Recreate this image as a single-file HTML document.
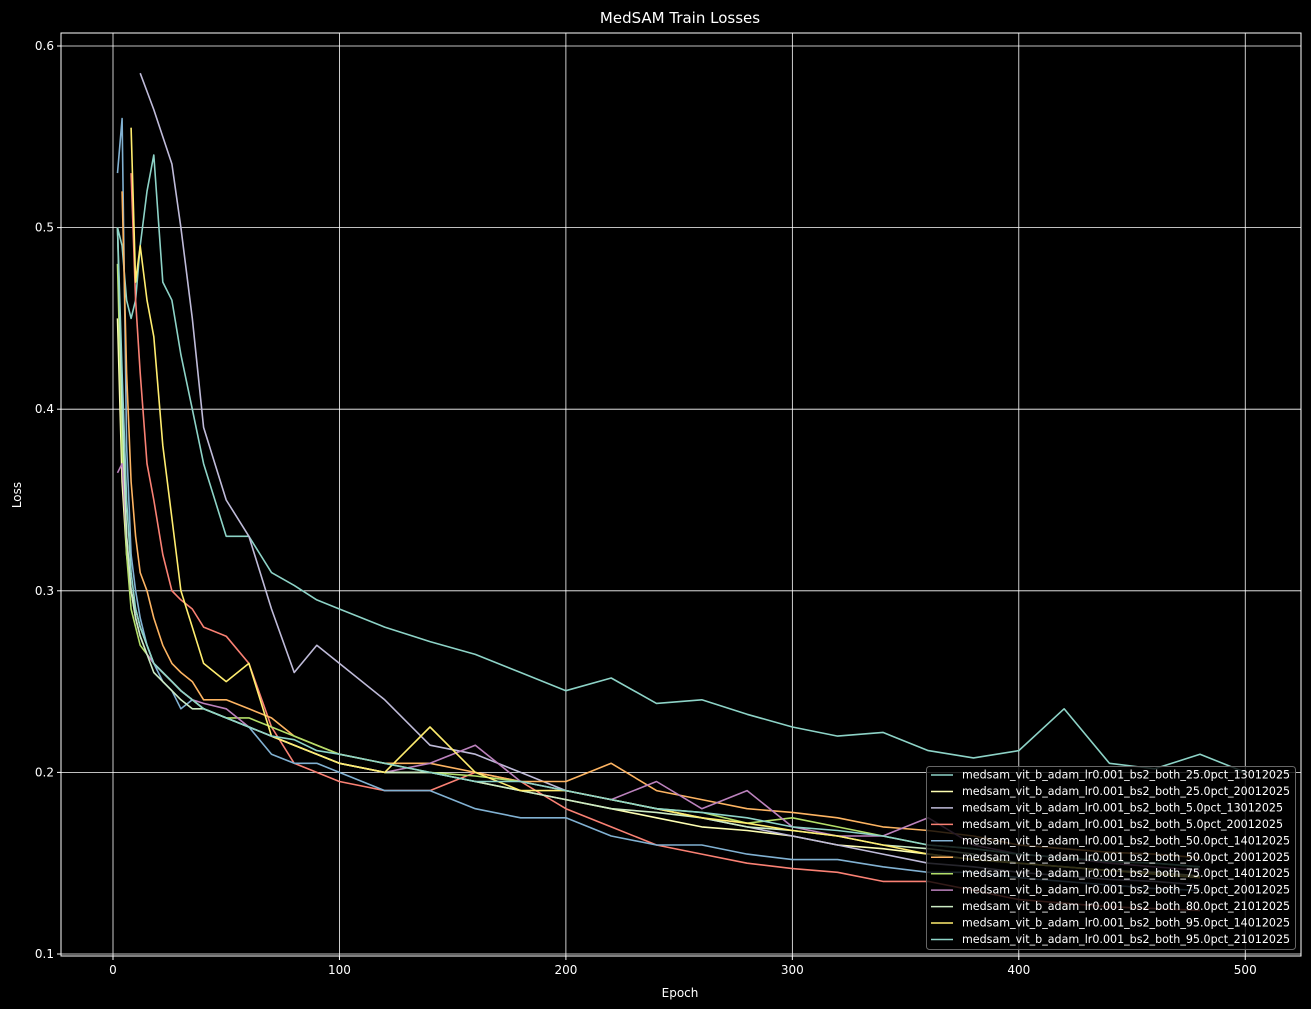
<!DOCTYPE html>
<html><head><meta charset="utf-8"><style>
html,body{margin:0;padding:0;background:#000;}
svg{display:block;font-family:"DejaVu Sans","Liberation Sans",sans-serif;}
</style></head><body>
<svg id="chart" width="1311" height="1009" xmlns="http://www.w3.org/2000/svg">
<rect width="1311" height="1009" fill="#000"/>
<text x="680" y="23" fill="#fff" font-size="15" text-anchor="middle">MedSAM Train Losses</text>
<text x="680" y="997" fill="#fff" font-size="12" text-anchor="middle">Epoch</text>
<text x="21" y="495" fill="#fff" font-size="12" text-anchor="middle" transform="rotate(-90 21 495)">Loss</text>
<g id="grid"></g><g id="ticks"></g><g id="lines"></g>
<rect x="61" y="33" width="1240" height="923" fill="none" stroke="#fff" stroke-width="1"/>
<g id="legend"></g>
</svg>
<script>
const epochs=[2,4,6,8,10,12,15,18,22,26,30,35,40,50,60,70,80,90,100,120,140,160,180,200,220,240,260,280,300,320,340,360,380,400,420,440,460,480,500];
const seriesNames=["medsam_vit_b_adam_lr0.001_bs2_both_25.0pct_13012025","medsam_vit_b_adam_lr0.001_bs2_both_25.0pct_20012025","medsam_vit_b_adam_lr0.001_bs2_both_5.0pct_13012025","medsam_vit_b_adam_lr0.001_bs2_both_5.0pct_20012025","medsam_vit_b_adam_lr0.001_bs2_both_50.0pct_14012025","medsam_vit_b_adam_lr0.001_bs2_both_50.0pct_20012025","medsam_vit_b_adam_lr0.001_bs2_both_75.0pct_14012025","medsam_vit_b_adam_lr0.001_bs2_both_75.0pct_20012025","medsam_vit_b_adam_lr0.001_bs2_both_80.0pct_21012025","medsam_vit_b_adam_lr0.001_bs2_both_95.0pct_14012025","medsam_vit_b_adam_lr0.001_bs2_both_95.0pct_21012025"];
const seriesColors=["#8dd3c7","#feffb3","#bfbbd9","#fa8174","#81b1d2","#fdb462","#b3de69","#bc82bd","#ccebc4","#ffed6f","#8dd3c7"];
const s1=[0.50,0.49,0.46,0.45,0.46,0.49,0.52,0.54,0.47,0.46,0.43,0.40,0.37,0.33,0.33,0.31,0.303,0.295,0.29,0.28,0.272,0.265,0.255,0.245,0.252,0.238,0.24,0.232,0.225,0.22,0.222,0.212,0.208,0.212,0.235,0.205,0.202,0.21,0.2];
const s2=[0.45,0.36,0.32,0.30,0.29,0.28,0.27,0.26,0.255,0.25,0.245,0.24,0.235,0.23,0.225,0.22,0.215,0.21,0.205,0.2,0.2,0.195,0.19,0.185,0.18,0.175,0.17,0.168,0.165,0.16,0.158,0.155,0.152,0.15,0.148,0.146,0.145,0.143];
const s3=[null,null,null,null,null,0.585,0.575,0.565,0.55,0.535,0.5,0.45,0.39,0.35,0.33,0.29,0.255,0.27,0.26,0.24,0.215,0.21,0.2,0.19,0.185,0.18,0.175,0.17,0.165,0.16,0.155,0.15,0.148,0.145,0.143,0.141,0.14,0.138];
const s4=[null,null,null,0.53,0.46,0.42,0.37,0.35,0.32,0.30,0.295,0.29,0.28,0.275,0.26,0.225,0.205,0.20,0.195,0.19,0.19,0.20,0.195,0.18,0.17,0.16,0.155,0.15,0.147,0.145,0.14,0.14,0.135,0.13,0.128,0.126,0.125,0.124];
const s5=[0.53,0.56,0.38,0.32,0.30,0.285,0.27,0.26,0.25,0.245,0.235,0.24,0.235,0.23,0.225,0.21,0.205,0.205,0.20,0.19,0.19,0.18,0.175,0.175,0.165,0.16,0.16,0.155,0.152,0.152,0.148,0.145,0.145,0.142,0.14,0.138,0.136,0.135];
const s6=[null,0.52,0.42,0.36,0.33,0.31,0.30,0.285,0.27,0.26,0.255,0.25,0.24,0.24,0.235,0.23,0.22,0.215,0.21,0.205,0.205,0.2,0.195,0.195,0.205,0.19,0.185,0.18,0.178,0.175,0.17,0.168,0.165,0.16,0.158,0.156,0.155,0.153];
const s7=[0.48,0.38,0.32,0.29,0.28,0.27,0.265,0.26,0.255,0.25,0.245,0.24,0.235,0.23,0.23,0.225,0.22,0.215,0.21,0.205,0.2,0.198,0.195,0.19,0.185,0.18,0.178,0.172,0.175,0.17,0.165,0.16,0.158,0.155,0.153,0.151,0.15,0.148];
const s8=[0.365,0.37,0.33,0.30,0.285,0.275,0.265,0.26,0.255,0.25,0.245,0.24,0.238,0.235,0.225,0.22,0.215,0.21,0.205,0.2,0.205,0.215,0.195,0.19,0.185,0.195,0.18,0.19,0.17,0.165,0.165,0.175,0.16,0.155,0.153,0.15,0.148,0.146];
const s9=[0.5,0.4,0.33,0.30,0.285,0.275,0.265,0.255,0.25,0.245,0.24,0.235,0.235,0.23,0.225,0.22,0.215,0.21,0.205,0.2,0.2,0.195,0.19,0.185,0.18,0.178,0.175,0.17,0.168,0.165,0.16,0.158,0.155,0.15,0.148,0.146,0.144,0.142];
const s10=[null,null,null,0.555,0.47,0.49,0.46,0.44,0.38,0.34,0.30,0.28,0.26,0.25,0.26,0.22,0.215,0.21,0.205,0.2,0.225,0.2,0.19,0.19,0.185,0.18,0.175,0.172,0.168,0.165,0.16,0.155,0.152,0.15,0.148,0.146,0.144,0.142];
const s11=[0.5,0.42,0.35,0.31,0.29,0.28,0.27,0.26,0.255,0.25,0.245,0.24,0.235,0.23,0.225,0.22,0.218,0.212,0.21,0.205,0.2,0.195,0.195,0.19,0.185,0.18,0.178,0.175,0.17,0.168,0.165,0.16,0.158,0.155,0.153,0.151,0.15,0.148];
const seriesValues=[s1,s2,s3,s4,s5,s6,s7,s8,s9,s10,s11];
const xTicks=[0,100,200,300,400,500];
const yTicks=[0.1,0.2,0.3,0.4,0.5,0.6];

const NS="http://www.w3.org/2000/svg";
function xs(v){return 113+v*2.2645;}
function ys(v){return 954-(v-0.1)*1816;}
function mk(tag,attrs,parent){const e=document.createElementNS(NS,tag);for(const k in attrs)e.setAttribute(k,attrs[k]);parent.appendChild(e);return e;}
const grid=document.getElementById('grid'),ticks=document.getElementById('ticks'),lines=document.getElementById('lines'),legend=document.getElementById('legend');
xTicks.forEach(t=>{
  const g=mk('line',{x1:xs(t),x2:xs(t),y1:33,y2:956,stroke:'#fff','stroke-width':0.8},grid);
  
  
  mk('line',{x1:xs(t),x2:xs(t),y1:956,y2:960,stroke:'#fff'},ticks);
  const l=mk('text',{x:xs(t),y:974,fill:'#fff','font-size':12,'text-anchor':'middle'},ticks);
  l.textContent=t;
  
  
});
yTicks.forEach(t=>{
  const g=mk('line',{x1:61,x2:1301,y1:ys(t),y2:ys(t),stroke:'#fff','stroke-width':0.8},grid);
  
  
  mk('line',{x1:57,x2:61,y1:ys(t),y2:ys(t),stroke:'#fff'},ticks);
  const l=mk('text',{x:54,y:ys(t)+4,fill:'#fff','font-size':12,'text-anchor':'end'},ticks);
  l.textContent=t.toFixed(1);
  
  
});
seriesValues.forEach((vals,i)=>{
  let d='';let started=false;
  vals.forEach((v,j)=>{if(v==null){started=false;return;}d+=(started?'L':'M')+xs(epochs[j]).toFixed(1)+','+ys(v).toFixed(1);started=true;});
  const p=mk('path',{d:d,fill:'none',stroke:seriesColors[i],'stroke-width':1.6,'stroke-linejoin':'round'},lines);
  
  
});
const lb=mk('rect',{x:926.5,y:766.5,width:369,height:183,rx:3,fill:'rgba(0,0,0,0.8)',stroke:'#666'},legend);


seriesNames.forEach((n,i)=>{
  const y=775+i*16.45;
  mk('line',{x1:931,x2:953,y1:y,y2:y,stroke:seriesColors[i],'stroke-width':1.5},legend);
  const t=mk('text',{x:962,y:y+3.5,fill:'#fff','font-size':11.1},legend);
  t.textContent=n;
  
  
});
</script>
</body></html>
